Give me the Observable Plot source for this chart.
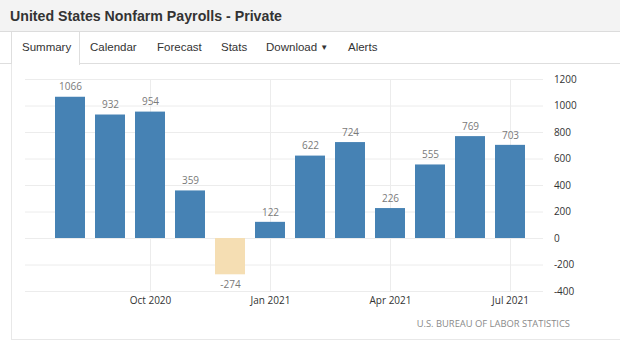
<!DOCTYPE html>
<html>
<head>
<meta charset="utf-8">
<script src="https://cdn.jsdelivr.net/npm/d3@7"></script>
<script src="https://cdn.jsdelivr.net/npm/@observablehq/plot@0.6"></script>
<style>
  html, body { margin: 0; padding: 0; background: #fff; }
  body { width: 620px; height: 359px; position: relative; overflow: hidden; font-family: "Liberation Sans", Arial, sans-serif; }
  #header { position: absolute; left: 0; top: 0; width: 620px; height: 31px; background: #f3f3f3; border-bottom: 1px solid #dcdcdc; }
  #title { position: absolute; left: 10px; top: 8px; font-size: 14.2px; font-weight: bold; color: #333; white-space: nowrap; }
  #tabs { position: absolute; left: 0; top: 32px; width: 620px; height: 31px; border-bottom: 1px solid #dedede; }
  .tab { position: absolute; top: 9px; font-size: 11.5px; color: #333; white-space: nowrap; }
  #sel { position: absolute; left: 11px; top: 32px; width: 67px; height: 33px; background: #fff; border-left: 1px solid #dedede; border-right: 1px solid #dedede; }
  #panel { position: absolute; left: 11px; top: 64px; width: 609px; height: 275px; border-left: 1px solid #e8e8e8; border-bottom: 1px solid #e8e8e8; }
  #chart { position: absolute; left: 0; top: 64px; }
  #caption { position: absolute; right: 50px; top: 317px; font-family: "Open Sans", sans-serif; font-size: 9.4px; color: #8a8a8a; white-space: nowrap; }
</style>
</head>
<body>
<div id="header"><div id="title">United States Nonfarm Payrolls - Private</div></div>
<div id="tabs"></div>
<div id="sel"></div>
<div class="tab" style="left:22px;top:41px">Summary</div>
<div class="tab" style="left:90px;top:41px">Calendar</div>
<div class="tab" style="left:157px;top:41px">Forecast</div>
<div class="tab" style="left:221px;top:41px">Stats</div>
<div class="tab" style="left:266px;top:41px">Download <span style="font-size:8px;position:relative;top:-1px">&#9660;</span></div>
<div class="tab" style="left:348px;top:41px">Alerts</div>
<div id="panel"></div>
<div id="chart"></div>
<div id="caption">U.S. BUREAU OF LABOR STATISTICS</div>
<script>
const months = ["Aug 2020","Sep 2020","Oct 2020","Nov 2020","Dec 2020","Jan 2021","Feb 2021","Mar 2021","Apr 2021","May 2021","Jun 2021","Jul 2021"];
const values = [1066, 932, 954, 359, -274, 122, 622, 724, 226, 555, 769, 703];
const xTickLabels = ["Oct 2020","Jan 2021","Apr 2021","Jul 2021"];
const yTickValues = [-400, -200, 0, 200, 400, 600, 800, 1000, 1200];

const data = months.map((m, i) => ({month: m, value: values[i]}));

const chart = Plot.plot({
  width: 620,
  height: 276,
  marginTop: 15,
  marginBottom: 49,
  marginLeft: 45.6,
  marginRight: 85.6,
  style: {fontFamily: "'Open Sans', sans-serif", fontSize: "10px", color: "#333", background: "transparent"},
  x: {type: "band", domain: months, paddingInner: 0.26, paddingOuter: 0.13, ticks: xTickLabels, tickSize: 0, tickPadding: 5, label: null},
  y: {domain: [-400, 1200], ticks: yTickValues, tickFormat: d => String(d), tickSize: 0, tickPadding: 19, axis: "right", label: null},
  marks: [
    Plot.ruleY(yTickValues, {stroke: "#ececec", strokeWidth: 1, insetLeft: -20.6, insetRight: -8.6}),
    Plot.ruleX(xTickLabels, {x: d => d, stroke: "#ececec", strokeWidth: 1}),
    Plot.barY(data, {x: "month", y: "value", fill: d => d.value < 0 ? "#f5deb3" : "#4682b4"}),
    Plot.text(data.filter(d => d.value >= 0), {x: "month", y: "value", text: d => String(d.value), dy: -10, fill: "#7a7a7a", fontSize: 10}),
    Plot.text(data.filter(d => d.value < 0), {x: "month", y: "value", text: d => String(d.value), dy: 10, fill: "#7a7a7a", fontSize: 10})
  ]
});
document.getElementById("chart").appendChild(chart);
</script>
</body>
</html>
